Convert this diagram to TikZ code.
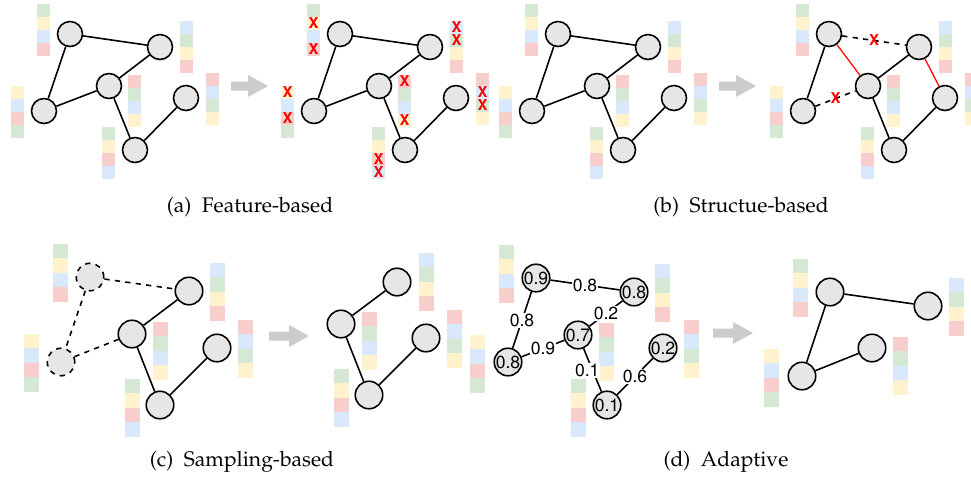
\documentclass[tikz,border=0pt]{standalone}
\usepackage[T1]{fontenc}
\usepackage{mathpazo}
\usepackage{helvet}
\usepackage{tikz}

\definecolor{fgreen}{HTML}{D5E8D4}
\definecolor{fyellow}{HTML}{FFF2CC}
\definecolor{fblue}{HTML}{DAE8FC}
\definecolor{fred}{HTML}{F8CECC}
\definecolor{nodegray}{HTML}{E6E6E6}
\definecolor{arrowgray}{HTML}{CCCCCC}

% feature bar: x, y of the top, cell width, cell height, colours top to bottom
\newcommand{\featbar}[5]{%
  \foreach \col [count=\k from 0] in {#5}
    \fill[\col] (#1,#2+\k*#4) rectangle ++(#3,#4);
}
% grey block arrow: x, y of the tail, shaft length
\newcommand{\blockarrow}[3]{%
  \fill[arrowgray] (#1,#2-4.5) -- ++(#3,0) -- ++(0,-6.5) -- ++(20,11)
    -- ++(-20,11) -- ++(0,-6.5) -- ++(-#3,0) -- cycle;
}

\begin{document}
\begin{tikzpicture}[x=0.02cm, y=-0.02cm,
    gnode/.style={circle, draw, line width=0.9pt, fill=nodegray, minimum size=0.5cm, inner sep=0pt},
    bignode/.style={gnode, minimum size=0.55cm, font=\sffamily\fontsize{10}{12}\selectfont},
    gone/.style={bignode, dashed},
    link/.style={line width=0.9pt},
    drop/.style={link, dashed},
    added/.style={red, line width=0.7pt},
    cross/.style={text=red, font=\sffamily\bfseries\fontsize{8.5}{9}\selectfont, inner sep=0pt},
    weight/.style={fill=white, font=\sffamily\fontsize{10}{12}\selectfont, inner sep=0.6pt},
    subcap/.style={font=\large}]

    \useasboundingbox (0,0) rectangle (971,478);

    % (a) input graph
    \featbar{37}{4}{13}{13}{fgreen,fyellow,fblue,fred}
    \featbar{180}{21}{13}{13}{fblue,fgreen,fyellow,fred}
    \featbar{128}{75}{13}{13}{fred,fgreen,fblue,fyellow}
    \featbar{11}{86}{13}{13}{fyellow,fblue,fred,fgreen}
    \featbar{102}{127}{13}{13}{fgreen,fyellow,fred,fblue}
    \featbar{206}{73}{13}{13}{fred,fblue,fgreen,fyellow}
    \node[gnode] (a1) at (70,34) {};
    \node[gnode] (a2) at (160,47) {};
    \node[gnode] (a3) at (109,86) {};
    \node[gnode] (a4) at (44,111) {};
    \node[gnode] (a5) at (186,98) {};
    \node[gnode] (a6) at (135,150) {};
    \draw[link] (a1) -- (a2);
    \draw[link] (a1) -- (a4);
    \draw[link] (a4) -- (a3);
    \draw[link] (a3) -- (a2);
    \draw[link] (a3) -- (a6);
    \draw[link] (a6) -- (a5);

    \blockarrow{231}{86}{17}

    % (a) masked features
    \featbar{307}{4}{13}{13}{fgreen,fyellow,fblue,fred}
    \featbar{450}{21}{13}{13}{fblue,fgreen,fyellow,fred}
    \featbar{398}{75}{13}{13}{fred,fgreen,fblue,fyellow}
    \featbar{281}{86}{13}{13}{fyellow,fblue,fred,fgreen}
    \featbar{372}{127}{13}{13}{fgreen,fyellow,fred,fblue}
    \featbar{476}{73}{13}{13}{fred,fblue,fgreen,fyellow}
    \node[cross] (x1) at (313.5,23.5) {X};
    \node[cross] (x2) at (313.5,49.5) {X};
    \node[cross] (x3) at (456.5,27.5) {X};
    \node[cross] (x4) at (456.5,40.5) {X};
    \node[cross] (x5) at (404.5,81.5) {X};
    \node[cross] (x6) at (404.5,120.5) {X};
    \node[cross] (x7) at (287.5,92.5) {X};
    \node[cross] (x8) at (287.5,118.5) {X};
    \node[cross] (x9) at (378.5,159.5) {X};
    \node[cross] (x10) at (378.5,172.5) {X};
    \node[cross] (x11) at (482.5,92.5) {X};
    \node[cross] (x12) at (482.5,105.5) {X};
    \node[gnode] (m1) at (340,34) {};
    \node[gnode] (m2) at (430,47) {};
    \node[gnode] (m3) at (379,86) {};
    \node[gnode] (m4) at (314,111) {};
    \node[gnode] (m5) at (456,98) {};
    \node[gnode] (m6) at (405,150) {};
    \draw[link] (m1) -- (m2);
    \draw[link] (m1) -- (m4);
    \draw[link] (m4) -- (m3);
    \draw[link] (m3) -- (m2);
    \draw[link] (m3) -- (m6);
    \draw[link] (m6) -- (m5);

    % (b) input graph
    \featbar{525}{4}{13}{13}{fgreen,fyellow,fblue,fred}
    \featbar{668}{21}{13}{13}{fblue,fgreen,fyellow,fred}
    \featbar{616}{75}{13}{13}{fred,fgreen,fblue,fyellow}
    \featbar{499}{86}{13}{13}{fyellow,fblue,fred,fgreen}
    \featbar{590}{127}{13}{13}{fgreen,fyellow,fred,fblue}
    \featbar{694}{73}{13}{13}{fred,fblue,fgreen,fyellow}
    \node[gnode] (b1) at (558,34) {};
    \node[gnode] (b2) at (648,47) {};
    \node[gnode] (b3) at (597,86) {};
    \node[gnode] (b4) at (532,111) {};
    \node[gnode] (b5) at (674,98) {};
    \node[gnode] (b6) at (623,150) {};
    \draw[link] (b1) -- (b2);
    \draw[link] (b1) -- (b4);
    \draw[link] (b4) -- (b3);
    \draw[link] (b3) -- (b2);
    \draw[link] (b3) -- (b6);
    \draw[link] (b6) -- (b5);

    \blockarrow{719}{86}{17}

    % (b) edited structure
    \featbar{796}{4}{13}{13}{fgreen,fyellow,fblue,fred}
    \featbar{939}{21}{13}{13}{fblue,fgreen,fyellow,fred}
    \featbar{887}{75}{13}{13}{fred,fgreen,fblue,fyellow}
    \featbar{770}{86}{13}{13}{fyellow,fblue,fred,fgreen}
    \featbar{861}{127}{13}{13}{fgreen,fyellow,fred,fblue}
    \featbar{965}{73}{13}{13}{fred,fblue,fgreen,fyellow}
    \node[gnode] (s1) at (829,34) {};
    \node[gnode] (s2) at (919,47) {};
    \node[gnode] (s3) at (868,86) {};
    \node[gnode] (s4) at (803,111) {};
    \node[gnode] (s5) at (945,98) {};
    \node[gnode] (s6) at (894,150) {};
    \draw[drop] (s1) -- node[cross] (sx1) {X} (s2);
    \draw[added] (s1) -- (s3);
    \draw[link] (s1) -- (s4);
    \draw[drop] (s4) -- node[cross] (sx2) {X} (s3);
    \draw[link] (s3) -- (s2);
    \draw[link] (s3) -- (s6);
    \draw[link] (s6) -- (s5);
    \draw[added] (s2) -- (s5);

    % captions, top row
    \node[subcap] (capa) at (250,207) {(a)\enspace Feature-based};
    \node[subcap] (capb) at (741,207) {(b)\enspace Structue-based};

    % (c) input graph with sampled nodes
    \featbar{53}{244}{15}{14.4}{fgreen,fyellow,fblue,fred}
    \featbar{210}{263}{15}{14.4}{fblue,fgreen,fyellow,fred}
    \featbar{153}{322}{15}{14.4}{fred,fgreen,fblue,fyellow}
    \featbar{24}{334}{15}{14.4}{fyellow,fblue,fred,fgreen}
    \featbar{125}{379}{15}{14.4}{fgreen,fyellow,fred,fblue}
    \featbar{238}{320}{15}{14.4}{fred,fblue,fgreen,fyellow}
    \node[gone] (c1) at (90,277) {};
    \node[bignode] (c2) at (189,291) {};
    \node[bignode] (c3) at (132,334) {};
    \node[gone] (c4) at (61,362) {};
    \node[bignode] (c5) at (217,348) {};
    \node[bignode] (c6) at (160,405) {};
    \draw[drop] (c1) -- (c2);
    \draw[drop] (c1) -- (c4);
    \draw[drop] (c4) -- (c3);
    \draw[link] (c3) -- (c2);
    \draw[link] (c3) -- (c6);
    \draw[link] (c6) -- (c5);

    \blockarrow{269}{336}{20}

    % (c) sampled subgraph
    \featbar{419}{253}{15}{14.4}{fblue,fgreen,fyellow,fred}
    \featbar{362}{312}{15}{14.4}{fred,fgreen,fblue,fyellow}
    \featbar{334}{369}{15}{14.4}{fgreen,fyellow,fred,fblue}
    \featbar{447}{310}{15}{14.4}{fred,fblue,fgreen,fyellow}
    \node[bignode] (t2) at (397,282) {};
    \node[bignode] (t3) at (341,324) {};
    \node[bignode] (t5) at (426,338) {};
    \node[bignode] (t6) at (369,395) {};
    \draw[link] (t3) -- (t2);
    \draw[link] (t3) -- (t6);
    \draw[link] (t6) -- (t5);

    % (d) scored graph
    \featbar{499}{245}{15}{14.4}{fgreen,fyellow,fblue,fred}
    \featbar{655}{264}{15}{14.4}{fblue,fgreen,fyellow,fred}
    \featbar{599}{323}{15}{14.4}{fred,fgreen,fblue,fyellow}
    \featbar{470}{335}{15}{14.4}{fyellow,fblue,fred,fgreen}
    \featbar{571}{379}{15}{14.4}{fgreen,fyellow,fred,fblue}
    \featbar{684}{320}{15}{14.4}{fred,fblue,fgreen,fyellow}
    \node[bignode] (d1) at (536,278) {0.9};
    \node[bignode] (d2) at (634,292) {0.8};
    \node[bignode] (d3) at (578,335) {0.7};
    \node[bignode] (d4) at (508,362) {0.8};
    \node[bignode] (d5) at (663,348) {0.2};
    \node[bignode] (d6) at (607,405) {0.1};
    \draw[link] (d1) -- node[weight] (w1) {0.8} (d2);
    \draw[link] (d1) -- node[weight] (w2) {0.8} (d4);
    \draw[link] (d4) -- node[weight] (w3) {0.9} (d3);
    \draw[link] (d3) -- node[weight] (w4) {0.2} (d2);
    \draw[link] (d3) -- node[weight, xshift=-3pt] (w5) {0.1} (d6);
    \draw[link] (d6) -- node[weight] (w6) {0.6} (d5);

    \blockarrow{713}{333}{20}

    % (d) learned graph
    \featbar{793}{259}{15}{14.4}{fgreen,fyellow,fblue,fred}
    \featbar{949}{278}{15}{14.4}{fblue,fgreen,fyellow,fred}
    \featbar{893}{337}{15}{14.4}{fred,fgreen,fblue,fyellow}
    \featbar{764}{349}{15}{14.4}{fyellow,fblue,fred,fgreen}
    \node[bignode] (e1) at (830,292) {};
    \node[bignode] (e2) at (928,306) {};
    \node[bignode] (e3) at (872,348) {};
    \node[bignode] (e4) at (802,376) {};
    \draw[link] (e1) -- (e2);
    \draw[link] (e1) -- (e4);
    \draw[link] (e4) -- (e3);

    % captions, bottom row
    \node[subcap] (capc) at (242,462) {(c)\enspace Sampling-based};
    \node[subcap] (capd) at (726,462) {(d)\enspace Adaptive};

\end{tikzpicture}
\end{document}
